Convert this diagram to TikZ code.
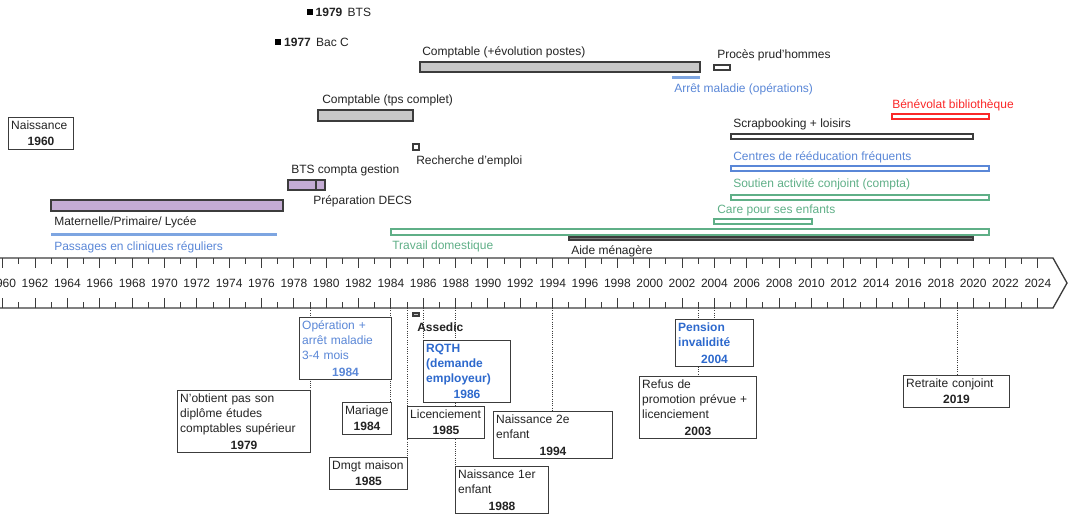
\documentclass[tikz,border=0pt]{standalone}
\usepackage{fontspec}
\setmainfont{Liberation Sans}
\usetikzlibrary{positioning,backgrounds}
\definecolor{txt}{RGB}{35,35,35}
\definecolor{barline}{RGB}{60,60,60}
\definecolor{barfill}{RGB}{200,200,200}
\definecolor{lilac}{RGB}{196,172,212}
\definecolor{skyline}{RGB}{125,165,225}
\definecolor{bluetxt}{RGB}{90,135,215}
\definecolor{bluebold}{RGB}{45,105,205}
\definecolor{greenbar}{RGB}{95,175,135}
\definecolor{redbar}{RGB}{250,40,40}
\newcommand{\yrline}[1]{\par\vskip1pt{\centering\textbf{#1}\par}}
\tikzset{
  lbl/.style={anchor=west, inner sep=0pt, text=txt},
  evtbox/.style={draw=barline, line width=0.8pt, fill=white, anchor=north west,
    align=left, inner xsep=2pt, inner ysep=2.5pt, text=txt},
  periodbar/.style={draw=barline, line width=0.8pt},
  sqmark/.style={fill=black, minimum size=4.5pt, inner sep=0pt},
  tick/.style={barline, line width=0.7pt},
  guide/.style={densely dotted, barline, line width=0.7pt},
}
\begin{document}
\begin{tikzpicture}[x=0.75pt, y=-0.75pt, font=\fontsize{9}{11.3}\selectfont]
\useasboundingbox (0,0) rectangle (1069,515);

% time axis
\draw[barline, line width=1pt] (-10,258) -- (1053,258) -- (1067,283) -- (1053,308) -- (-10,308);
\foreach \yr in {1960,...,2024}{
  \pgfmathsetmacro\xx{390.9+16.175*(\yr-1984)}
  \ifodd\yr
    \draw[tick] (\xx,258) -- (\xx,264) (\xx,308) -- (\xx,302);
  \else
    \draw[tick] (\xx,258) -- (\xx,268) (\xx,308) -- (\xx,298);
    \node[text=txt] (a\yr) at (\xx,283) {\yr};
  \fi
}
\foreach \yr in {1979,1984,1985,1986,1988,1994,2003,2004,2019}{
  \pgfmathsetmacro\xx{390.9+16.175*(\yr-1984)}
  \coordinate (c\yr) at (\xx,308);
}

% dates above
\node[sqmark] (sq79) at (309.5,12) {};
\node[lbl, right=2pt of sq79] (lbts79) {\textbf{1979}\hspace{4pt}BTS};
\node[sqmark] (sq77) at (278,42) {};
\node[lbl, right=2pt of sq77] (lbac77) {\textbf{1977}\hspace{4pt}Bac C};

% periods
\draw[periodbar, fill=barfill] (420,62) rectangle (700,72);
\node[lbl] (lcpt2) at (422,52) {Comptable (+évolution postes)};
\draw[skyline, line width=2.25pt] (672,77) -- (700,77);
\node[lbl, text=bluetxt] (larret) at (674,89) {Arrêt maladie (opérations)};
\draw[periodbar, fill=white] (714,65) rectangle (730,70);
\node[lbl] (lproces) at (717,55) {Procès prud'hommes};
\draw[periodbar, fill=barfill] (318,110) rectangle (413,121);
\node[lbl] (lcpt1) at (322,100) {Comptable (tps complet)};
\draw[periodbar, fill=white] (413,144) rectangle (419,150);
\node[lbl] (lrech) at (416,161) {Recherche d'emploi};
\draw[periodbar, fill=lilac] (288,180) rectangle (316,190);
\draw[periodbar, fill=lilac] (316,180) rectangle (325,190);
\node[lbl] (lbts) at (291,170) {BTS compta gestion};
\node[lbl] (ldecs) at (313,201) {Préparation DECS};
\draw[periodbar, fill=lilac] (51,200) rectangle (283,211);
\node[lbl] (lecole) at (54,222) {Maternelle/Primaire/ Lycée};
\draw[skyline, line width=2.25pt] (51,234) -- (277,234);
\node[lbl, text=bluetxt] (lclin) at (54,247) {Passages en cliniques réguliers};
\draw[greenbar, line width=0.8pt] (391,229) rectangle (989,235);
\node[lbl, text=greenbar] (ldom) at (392,246) {Travail domestique};
\draw[periodbar, fill=barfill!60!black] (569,237) rectangle (973,240);
\node[lbl] (laide) at (571,251) {Aide ménagère};
\draw[greenbar, line width=0.8pt] (714,219) rectangle (812,224);
\node[lbl, text=greenbar] (lcare) at (717,210) {Care pour ses enfants};
\draw[greenbar, line width=0.8pt] (731,195) rectangle (989,200);
\node[lbl, text=greenbar] (lsout) at (733,184) {Soutien activité conjoint (compta)};
\draw[bluetxt, line width=0.8pt] (731,166) rectangle (989,171);
\node[lbl, text=bluetxt] (lreed) at (733,157) {Centres de rééducation fréquents};
\draw[periodbar] (731,134) rectangle (973,139);
\node[lbl] (lscrap) at (733,124) {Scrapbooking + loisirs};
\draw[redbar, line width=0.8pt] (892,114) rectangle (989,119);
\node[lbl, text=redbar] (lbenev) at (892,105) {Bénévolat bibliothèque};

\node[evtbox, text width=44.75pt] (nais) at (8,117) {Naissance\yrline{1960}};

% events below
\node[evtbox, text width=95.75pt] (nobt) at (177,390) {N'obtient pas son\\diplôme études\\comptables supérieur\yrline{1979}};
\node[evtbox, text width=65pt, text=bluetxt] (oper) at (299,317) {Opération +\\arrêt maladie\\3-4 mois\yrline{1984}};
\node[evtbox, text width=32.75pt] (mari) at (342,402) {Mariage\yrline{1984}};
\node[evtbox, text width=54.5pt] (dmgt) at (329,457) {Dmgt maison\yrline{1985}};
\node[evtbox, text width=53.75pt] (lic) at (407,406) {Licenciement\yrline{1985}};
\node[evtbox, text width=61.25pt, text=bluebold] (rqth) at (423,340) {\bfseries RQTH\\(demande\\employeur)\yrline{1986}};
\node[evtbox, text width=65.75pt] (nais1) at (455,466) {Naissance 1er\\enfant\yrline{1988}};
\node[evtbox, text width=85.25pt] (nais2) at (493,411) {Naissance 2e\\enfant\yrline{1994}};
\node[evtbox, text width=54.5pt, text=bluebold] (pens) at (675,319) {\bfseries Pension\\invalidité\yrline{2004}};
\node[evtbox, text width=83.75pt] (refus) at (639,376) {Refus de\\promotion prévue +\\licenciement\yrline{2003}};
\node[evtbox, text width=75.5pt] (retr) at (903,375) {Retraite conjoint\yrline{2019}};
\draw[periodbar, fill=barfill] (413,313) rectangle (419,316);
\node[lbl] (lassedic) at (417,327) {\textbf{Assedic}};

\begin{scope}[on background layer]
\draw[guide] (c1979) -- (c1979 |- nobt.north);
\draw[guide] (c1984) -- (c1984 |- mari.north);
\draw[guide] (c1985) -- (c1985 |- dmgt.north);
\draw[guide] (c1986) -- (c1986 |- rqth.north);
\draw[guide] (c1988) -- (c1988 |- nais1.north);
\draw[guide] (c1994) -- (c1994 |- nais2.north);
\draw[guide] (c2003) -- (c2003 |- refus.north);
\draw[guide] (c2004) -- (c2004 |- pens.north);
\draw[guide] (c2019) -- (c2019 |- retr.north);
\end{scope}
\end{tikzpicture}
\end{document}
